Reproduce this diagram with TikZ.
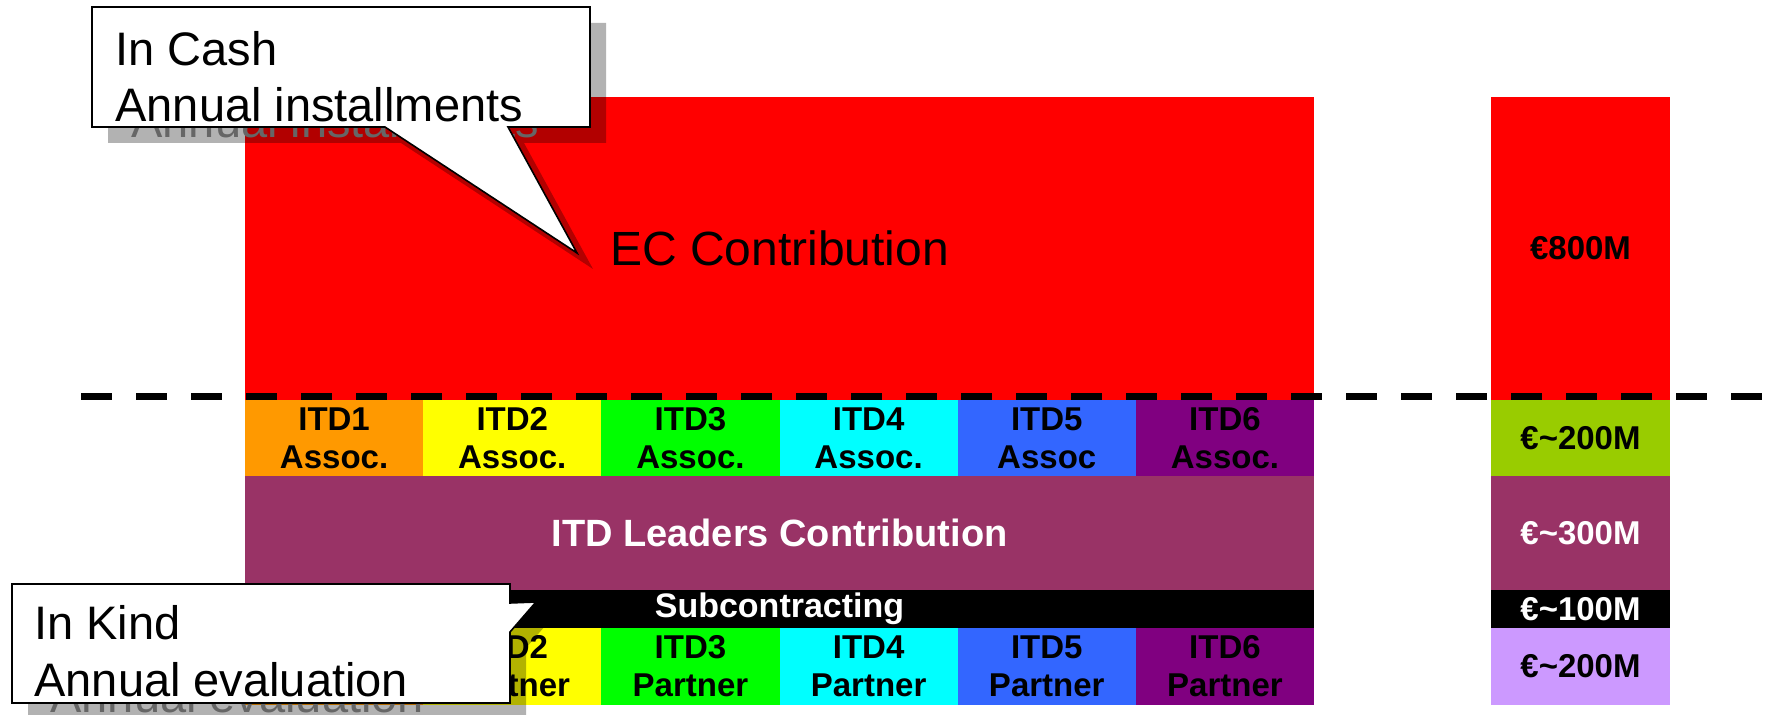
\documentclass[tikz,border=0pt]{standalone}
\usepackage{fontspec}
\setmainfont{Liberation Sans}
\definecolor{itdorange}{HTML}{FF9900}
\definecolor{itdyellow}{HTML}{FFFF00}
\definecolor{itdgreen}{HTML}{00FF00}
\definecolor{itdcyan}{HTML}{00FFFF}
\definecolor{itdblue}{HTML}{3366FF}
\definecolor{itdpurple}{HTML}{800080}
\definecolor{leaderred}{HTML}{993366}
\definecolor{assoclime}{HTML}{99CC00}
\definecolor{partnerlilac}{HTML}{CC99FF}
\tikzset{
  bar/.style={inner sep=0pt, outer sep=0pt, align=center, font=\bfseries\fontsize{16.5}{19}\selectfont},
  cell/.style={bar, minimum width=89.08pt, minimum height=38pt},
  sumcell/.style={bar, minimum width=89.5pt},
  wide/.style={bar, minimum width=534.5pt},
  bubble/.style={draw=black, line width=0.8pt, fill=white},
  bubbleshadow/.style={fill=black, opacity=0.3},
  bubbletext/.style={anchor=base west, inner sep=0pt, font=\fontsize{23.5}{28}\selectfont},
  ghosttext/.style={bubbletext, text=black!60},
  cutline/.style={line width=3.5pt, dash pattern=on 15.5pt off 12pt}
}

\begin{document}
\begin{tikzpicture}[x=0.5pt, y=-0.5pt]
	\useasboundingbox (0,0) rectangle (1769,715);
	% cash part
	\node[wide, fill=red, minimum height=151.5pt, font=\fontsize{24}{28}\selectfont] (ec) at (779.5,248.5) {EC Contribution};
	\node[sumcell, fill=red, minimum height=151.5pt] (ecsum) at (1580.5,248.5) {€800M};
	% in kind part
	\foreach \clr/\kind [count=\i] in {itdorange/Assoc., itdyellow/Assoc., itdgreen/Assoc., itdcyan/Assoc., itdblue/Assoc, itdpurple/Assoc.} {
		\node[cell, fill=\clr] (assoc\i) at ({245+178.17*(\i-0.5)},438) {ITD\i\\\kind};
		\node[cell, fill=\clr, minimum height=38.5pt] (partner\i) at ({245+178.17*(\i-0.5)},666.5) {ITD\i\\Partner};
	}
	\node[wide, fill=leaderred, text=white, minimum height=57pt, font=\bfseries\fontsize{19}{23}\selectfont] (leaders) at (779.5,533) {ITD Leaders Contribution};
	\node[wide, fill=black, text=white, minimum height=19pt, font=\bfseries\fontsize{17}{19}\selectfont] (sub) at (779.5,609) {Subcontracting};
	\node[sumcell, fill=assoclime, minimum height=38pt] (assocsum) at (1580.5,438) {€\textasciitilde200M};
	\node[sumcell, fill=leaderred, text=white, minimum height=57pt] (leaderssum) at (1580.5,533) {€\textasciitilde300M};
	\node[sumcell, fill=black, text=white, minimum height=19pt] (subsum) at (1580.5,609) {€\textasciitilde100M};
	\node[sumcell, fill=partnerlilac, minimum height=38.5pt] (partnersum) at (1580.5,666.5) {€\textasciitilde200M};
	% border between cash and kind
	\coordinate (cutl) at (81,397);
	\coordinate (cutr) at (1769,397);
	\draw[cutline] (cutl) -- (cutr);
	% callouts
	\fill[bubbleshadow, shift={(16,16)}] (92,7) -- (590,7) -- (590,127) -- (508,127) -- (577,253) -- (385,127) -- (92,127) -- cycle;
	\node[ghosttext] (cashghost) at (131,138) {Annual installments};
	\draw[bubble] (92,7) -- (590,7) -- (590,127) -- (508,127) -- (577,253) -- (385,127) -- (92,127) -- cycle;
	\node[bubbletext] (cash1) at (115,66) {In Cash};
	\node[bubbletext] (cash2) at (115,122) {Annual installments};
	\fill[bubbleshadow, shift={(16,16)}] (12,584) -- (510,584) -- (510,603) -- (536,602) -- (510,632) -- (510,703) -- (12,703) -- cycle;
	\node[ghosttext] (kindghost) at (50,713) {Annual evaluation};
	\draw[bubble] (12,584) -- (510,584) -- (510,603) -- (536,602) -- (510,632) -- (510,703) -- (12,703) -- cycle;
	\node[bubbletext] (kind1) at (34,640) {In Kind};
	\node[bubbletext] (kind2) at (34,697) {Annual evaluation};
\end{tikzpicture}
\end{document}
